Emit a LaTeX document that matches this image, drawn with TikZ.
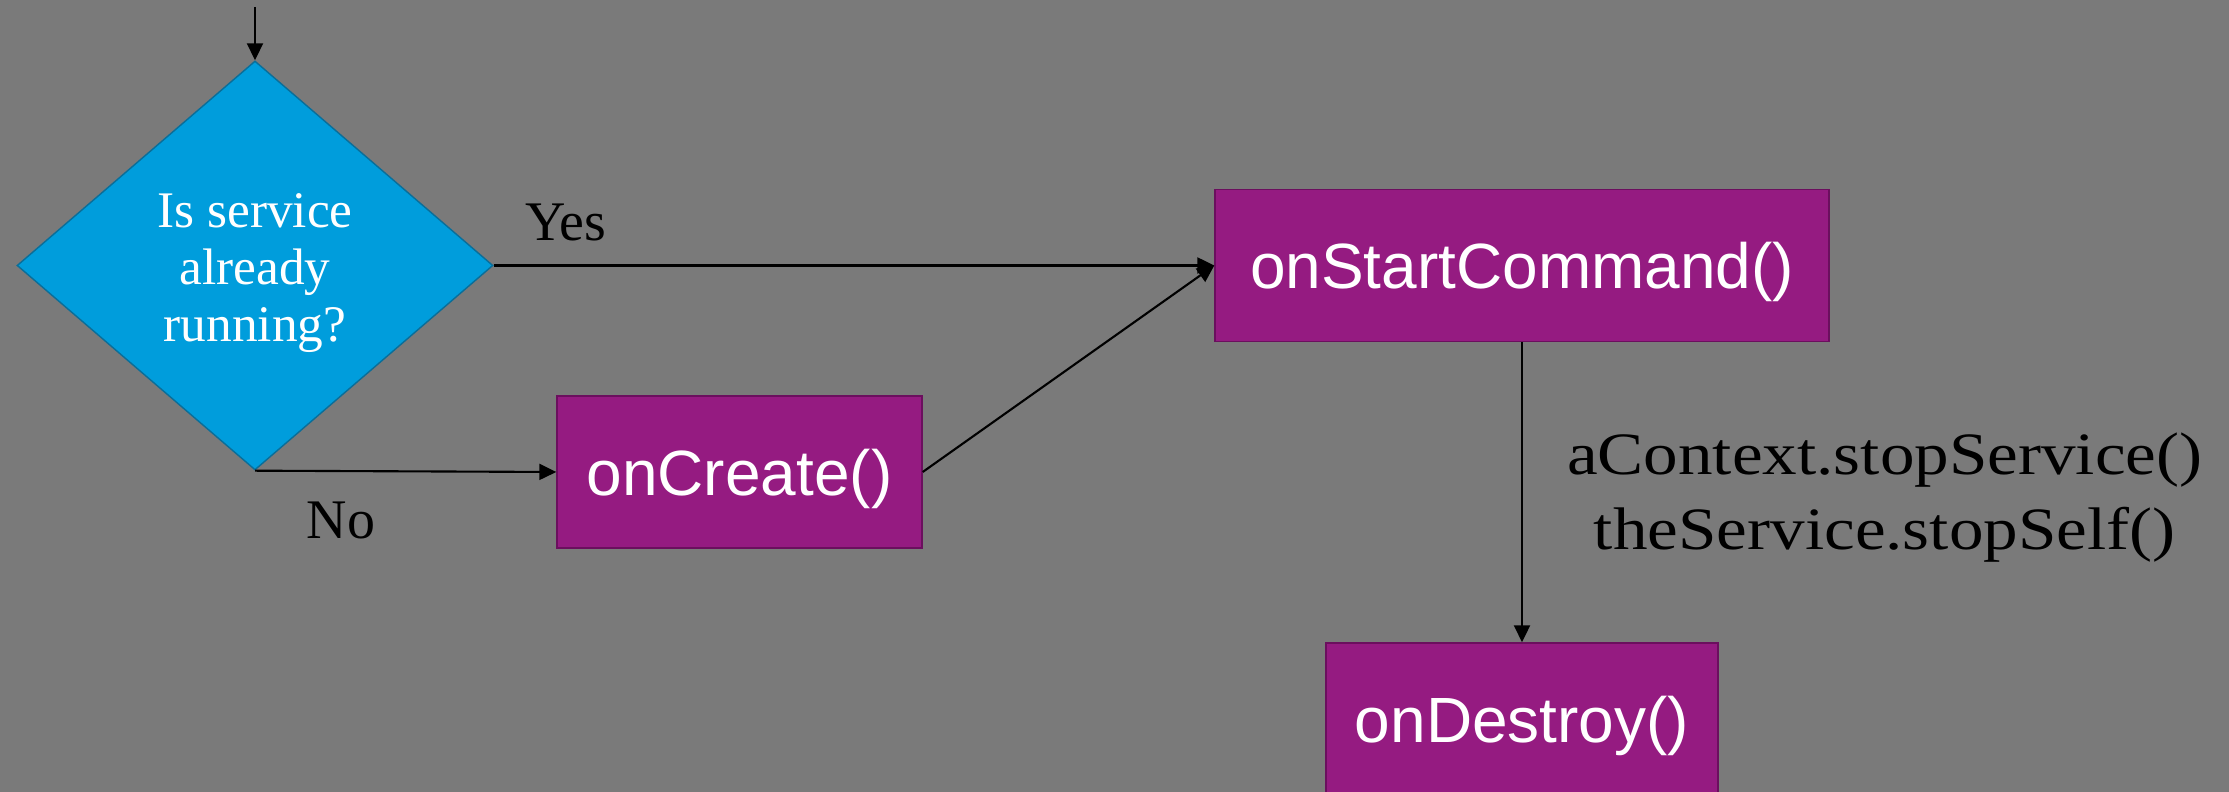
\documentclass[tikz,border=0pt]{standalone}
\usepackage{xcolor}
\usepackage{fontspec}
\usepackage{tikz}
\usetikzlibrary{positioning, arrows.meta, shapes.geometric}
\definecolor{slidegray}{HTML}{7A7A7A}
\definecolor{decisionblue}{HTML}{009DDC}
\definecolor{decisionedge}{HTML}{0A6E99}
\definecolor{methodpurple}{HTML}{951B81}
\definecolor{methodedge}{HTML}{6B0F5E}
\newfontfamily\methodfont{Liberation Sans}
\newfontfamily\answerfont{Liberation Serif}
\newfontfamily\callfont{Liberation Serif}[FakeStretch=1.15]

\begin{document}
\begin{tikzpicture}[
    flow/.style={draw=black, line width=0.6pt, -{Triangle[length=1.7mm, width=1.6mm]}},
    decision/.style={diamond, draw=decisionedge, line width=0.4pt, fill=decisionblue,
          aspect=1.163, minimum width=4.76cm, minimum height=4.09cm, inner sep=0pt,
          text height=1.63cm, text depth=0.11cm, align=center, text=white,
          font=\answerfont\fontsize{14.6}{16.2}\selectfont},
    method/.style={rectangle, draw=methodedge, line width=0.4pt, fill=methodpurple,
          minimum height=1.52cm, inner sep=0pt, text height=0.52cm, text depth=0.05cm,
          text=white, font=\methodfont\fontsize{18.2}{21}\selectfont},
    answer/.style={inner sep=0pt, font=\answerfont\fontsize{15.9}{18}\selectfont},
    calls/.style={inner sep=0pt, align=center, font=\callfont\fontsize{17.1}{21.3}\selectfont}]
    \useasboundingbox (0,0) rectangle (22.29,7.92);
    \fill[slidegray] (0,0) rectangle (22.29,7.92);

    \coordinate (entry) at (2.55,7.85);
    \node[decision] (running) at (2.55,5.265) {Is service\\already\\running?};
    \node[method, minimum width=6.14cm] (startcmd) at (15.22,5.265) {onStartCommand()};
    \node[method, minimum width=3.65cm] (create) at (7.395,3.20) {onCreate()};
    \node[method, minimum width=3.92cm] (destroy) at (15.22,0.73) {onDestroy()};

    \draw[flow] (entry) -- (running.north);
    \draw[flow] (running.east) -- node[answer, pos=0.1, above=2.3mm] (yes) {Yes} (startcmd.west);
    \draw[flow] (running.south) -- node[answer, pos=0.285, below=3mm] (no) {No} (create.west);
    \draw[flow] (create.east) -- (startcmd.west);
    \draw[flow] (startcmd.south) -- node[calls, right=4.4mm, yshift=-0.5mm] (stopcalls)
        {aContext.stopService()\\theService.stopSelf()} (destroy.north);
\end{tikzpicture}
\end{document}
